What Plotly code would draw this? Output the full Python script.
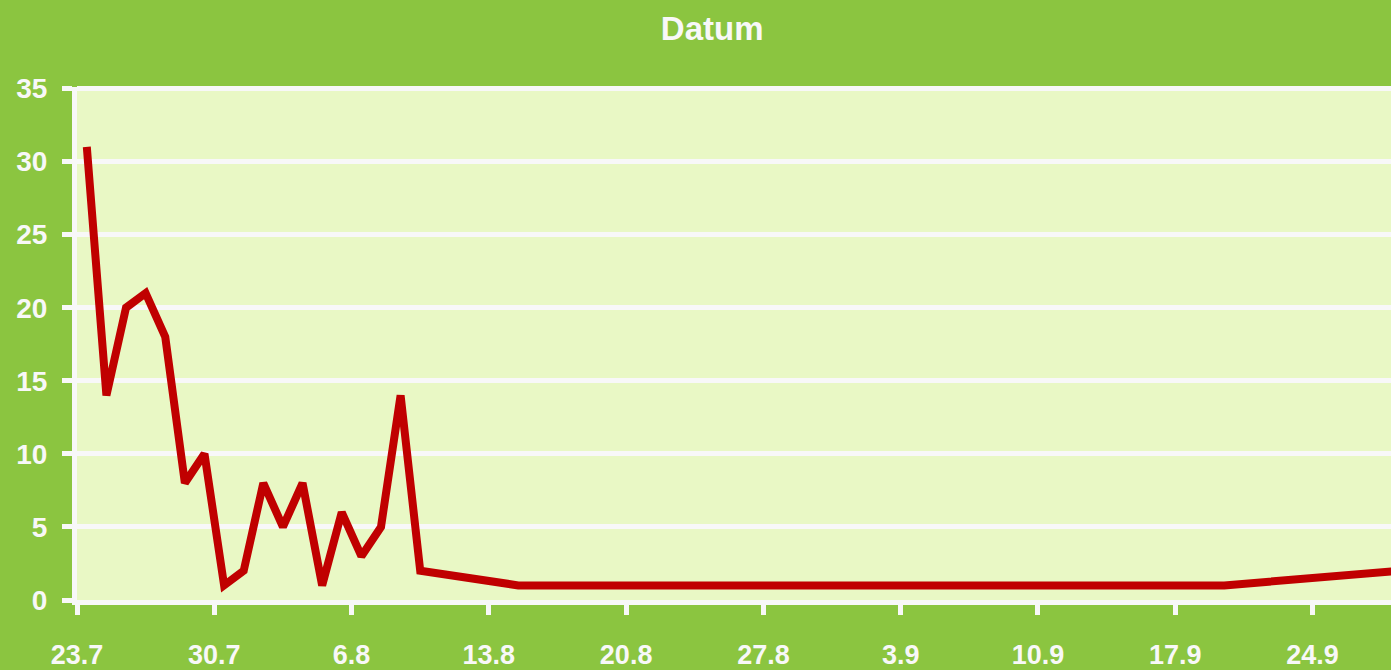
import plotly.graph_objects as go

dates = [
    "2013-07-23", "2013-07-24", "2013-07-25", "2013-07-26", "2013-07-27",
    "2013-07-28", "2013-07-29", "2013-07-30", "2013-07-31", "2013-08-01",
    "2013-08-02", "2013-08-03", "2013-08-04", "2013-08-05", "2013-08-06",
    "2013-08-07", "2013-08-08", "2013-08-09", "2013-08-14", "2013-08-21",
    "2013-08-28", "2013-09-04", "2013-09-11", "2013-09-19", "2013-09-28",
]
values = [
    31, 14, 20, 21, 18,
    8, 10, 1, 2, 8,
    5, 8, 1, 6, 3,
    5, 14, 2, 1, 1,
    1, 1, 1, 1, 2,
]
y_ticks = [0, 5, 10, 15, 20, 25, 30, 35]

BG = "#8BC540"
PLOT_BG = "#E9F8C5"
WHITE = "#F8F8F8"
FONT = "Liberation Sans"

fig = go.Figure()
fig.add_trace(go.Scatter(
    x=dates, y=values, mode="lines",
    xperiod=86400000, xperiodalignment="middle",
    line=dict(color="#C00000", width=8),
    showlegend=False,
))

fig.update_layout(
    width=1391, height=670,
    paper_bgcolor=BG, plot_bgcolor=PLOT_BG,
    margin=dict(l=77, r=0, t=87, b=66),
    title=dict(text="Datum", x=0.512, xanchor="center", y=0.958, yanchor="middle",
               font=dict(family=FONT, size=33, color=WHITE, weight="bold")),
    xaxis=dict(
        type="date", range=["2013-07-23", "2013-09-28"],
        tick0="2013-07-23", dtick=7 * 86400000, tickformat="%-d.%-m",
        showgrid=False, showline=True, linecolor=WHITE, linewidth=5,
        ticks="outside", ticklen=10, tickwidth=5, tickcolor=WHITE,
        tickfont=dict(family=FONT, size=27, color=WHITE, weight="bold"),
        ticklabelstandoff=17, zeroline=False,
    ),
    yaxis=dict(
        range=[0, 35.1], tickvals=y_ticks,
        showgrid=True, gridcolor=WHITE, gridwidth=5,
        showline=True, linecolor=WHITE, linewidth=5,
        ticks="outside", ticklen=10, tickwidth=5, tickcolor=WHITE,
        tickfont=dict(family=FONT, size=28, color=WHITE, weight="bold"),
        ticklabelstandoff=9, zeroline=False,
    ),
)

fig.write_html(
    "out.html",
    config={"displayModeBar": False},
    post_script="document.body.style.margin='0';document.body.style.overflow='hidden';",
)
